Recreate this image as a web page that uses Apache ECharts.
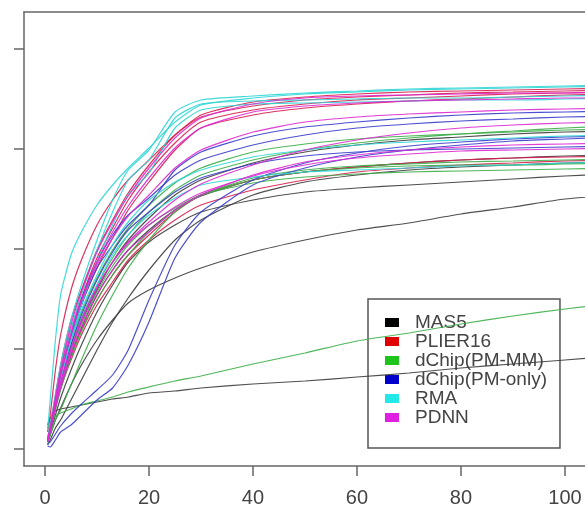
<!DOCTYPE html>
<html>
<head>
<meta charset="utf-8">
<script src="https://cdn.jsdelivr.net/npm/echarts@6/dist/echarts.min.js"></script>
<style>html,body{margin:0;padding:0;background:#fff}#c{width:585px;height:508px}</style>
</head>
<body>
<div id="c"></div>
<script>
// x positions (false positives) shared by every curve
const xs = [0.5,1,2,3,5,7,10,13,16,20,25,30,40,50,60,70,80,90,100,110];
const xTicks = [0,20,40,60,80,100];
const yTicks = [0,0.2,0.4,0.6,0.8];
const methods = ["MAS5","PLIER16","dChip(PM-MM)","dChip(PM-only)","RMA","PDNN"];

// MAS5
const mas5 = [
  [0.048,0.062,0.076,0.080,0.084,0.088,0.094,0.100,0.104,0.112,0.116,0.122,0.130,0.136,0.144,0.152,0.162,0.170,0.178,0.186],
  [0.014,0.028,0.058,0.082,0.128,0.168,0.218,0.258,0.292,0.318,0.342,0.362,0.394,0.418,0.438,0.452,0.470,0.484,0.500,0.508],
  [0.018,0.034,0.068,0.102,0.158,0.208,0.274,0.328,0.374,0.414,0.448,0.474,0.498,0.514,0.522,0.528,0.534,0.540,0.546,0.550],
  [0.016,0.038,0.088,0.128,0.198,0.254,0.318,0.374,0.418,0.462,0.508,0.538,0.572,0.594,0.608,0.618,0.624,0.630,0.634,0.636],
  [0.016,0.038,0.084,0.122,0.188,0.242,0.308,0.358,0.398,0.438,0.478,0.506,0.538,0.554,0.564,0.572,0.578,0.582,0.586,0.588],
  [0.008,0.018,0.042,0.058,0.098,0.138,0.198,0.254,0.302,0.358,0.418,0.458,0.508,0.534,0.548,0.558,0.564,0.568,0.572,0.574]
];
// PLIER16
const plier16 = [
  [0.034,0.068,0.158,0.228,0.318,0.378,0.448,0.498,0.538,0.578,0.628,0.668,0.694,0.704,0.710,0.714,0.716,0.718,0.720,0.722],
  [0.022,0.048,0.108,0.168,0.258,0.318,0.398,0.458,0.512,0.568,0.628,0.664,0.686,0.698,0.704,0.708,0.712,0.714,0.716,0.718],
  [0.018,0.042,0.098,0.154,0.238,0.302,0.382,0.442,0.498,0.554,0.612,0.654,0.678,0.690,0.698,0.702,0.706,0.710,0.712,0.714],
  [0.016,0.038,0.094,0.142,0.222,0.288,0.362,0.422,0.478,0.534,0.598,0.642,0.668,0.682,0.690,0.696,0.700,0.704,0.708,0.710],
  [0.018,0.042,0.088,0.128,0.188,0.238,0.298,0.348,0.388,0.428,0.474,0.508,0.538,0.554,0.564,0.572,0.578,0.582,0.584,0.586],
  [0.014,0.038,0.082,0.122,0.178,0.228,0.288,0.334,0.378,0.418,0.458,0.488,0.518,0.538,0.554,0.562,0.568,0.572,0.576,0.578]
];
// dChip(PM-MM)
const dchipMM = [
  [0.042,0.054,0.066,0.072,0.080,0.088,0.096,0.104,0.114,0.124,0.136,0.146,0.170,0.192,0.216,0.232,0.250,0.266,0.280,0.292],
  [0.018,0.042,0.094,0.138,0.208,0.262,0.328,0.382,0.428,0.474,0.518,0.548,0.578,0.598,0.612,0.622,0.630,0.636,0.642,0.646],
  [0.014,0.034,0.078,0.118,0.182,0.234,0.298,0.348,0.388,0.434,0.478,0.508,0.538,0.554,0.562,0.566,0.568,0.568,0.570,0.572],
  [0.016,0.038,0.088,0.128,0.194,0.248,0.314,0.366,0.408,0.448,0.482,0.508,0.532,0.544,0.550,0.554,0.556,0.558,0.560,0.562],
  [0.018,0.042,0.098,0.142,0.218,0.274,0.342,0.398,0.442,0.488,0.532,0.562,0.594,0.610,0.620,0.626,0.630,0.634,0.638,0.640],
  [0.008,0.028,0.058,0.078,0.128,0.178,0.248,0.308,0.362,0.418,0.474,0.508,0.542,0.558,0.566,0.570,0.574,0.576,0.578,0.580]
];
// dChip(PM-only)
const dchipPM = [
  [0.006,0.004,0.018,0.034,0.048,0.068,0.098,0.122,0.168,0.254,0.382,0.454,0.528,0.562,0.584,0.598,0.608,0.616,0.620,0.624],
  [0.010,0.014,0.030,0.046,0.070,0.090,0.118,0.148,0.198,0.298,0.408,0.474,0.538,0.572,0.592,0.606,0.614,0.620,0.624,0.626],
  [0.018,0.042,0.098,0.142,0.222,0.288,0.362,0.408,0.448,0.488,0.558,0.594,0.626,0.644,0.654,0.662,0.668,0.672,0.674,0.676],
  [0.016,0.038,0.088,0.132,0.208,0.268,0.338,0.394,0.438,0.474,0.514,0.542,0.570,0.586,0.594,0.598,0.600,0.602,0.604,0.606],
  [0.018,0.042,0.098,0.148,0.228,0.298,0.374,0.428,0.468,0.502,0.548,0.578,0.608,0.628,0.642,0.650,0.656,0.660,0.664,0.666]
];
// RMA
const rma = [
  [0.038,0.098,0.218,0.308,0.388,0.434,0.488,0.528,0.562,0.602,0.654,0.688,0.702,0.710,0.714,0.718,0.720,0.722,0.724,0.726],
  [0.022,0.048,0.108,0.168,0.258,0.328,0.418,0.498,0.558,0.598,0.674,0.698,0.706,0.712,0.716,0.720,0.722,0.724,0.726,0.728],
  [0.018,0.042,0.098,0.148,0.238,0.308,0.398,0.474,0.538,0.578,0.662,0.690,0.696,0.698,0.700,0.702,0.702,0.704,0.706,0.708],
  [0.018,0.038,0.088,0.138,0.218,0.288,0.374,0.448,0.508,0.552,0.642,0.678,0.690,0.692,0.694,0.696,0.698,0.698,0.700,0.702],
  [0.014,0.038,0.088,0.128,0.198,0.258,0.328,0.388,0.428,0.468,0.502,0.528,0.544,0.554,0.558,0.562,0.566,0.568,0.572,0.574],
  [0.018,0.042,0.098,0.142,0.218,0.278,0.348,0.408,0.454,0.498,0.534,0.558,0.584,0.598,0.608,0.614,0.618,0.622,0.626,0.628]
];
// PDNN
const pdnn = [
  [0.018,0.042,0.102,0.158,0.248,0.314,0.394,0.454,0.506,0.562,0.622,0.662,0.690,0.702,0.706,0.708,0.710,0.712,0.712,0.714],
  [0.016,0.038,0.094,0.146,0.230,0.298,0.374,0.434,0.486,0.542,0.602,0.642,0.674,0.686,0.692,0.696,0.698,0.700,0.702,0.702],
  [0.018,0.042,0.098,0.148,0.228,0.294,0.368,0.422,0.466,0.508,0.562,0.598,0.634,0.654,0.664,0.670,0.674,0.678,0.680,0.682],
  [0.014,0.034,0.082,0.122,0.188,0.242,0.308,0.358,0.398,0.434,0.478,0.508,0.548,0.574,0.588,0.598,0.604,0.608,0.610,0.612],
  [0.014,0.038,0.088,0.128,0.198,0.254,0.322,0.374,0.414,0.454,0.498,0.530,0.568,0.598,0.618,0.632,0.642,0.648,0.652,0.654],
  [0.016,0.038,0.090,0.134,0.202,0.258,0.324,0.374,0.412,0.448,0.484,0.512,0.546,0.568,0.582,0.590,0.596,0.598,0.600,0.602]
];

const groups = [mas5, plier16, dchipMM, dchipPM, rma, pdnn];
const lineColors = ['#3c3c3c','#d81e4e','#3cae48','#3a3ccc','#2fd6d6','#de28d2'];
const keyColors = ['#000000','#e00000','#1cc41c','#0000cc','#22e8e8','#e020e0'];

const series = [];
groups.forEach((g, gi) => {
  g.forEach(ys => {
    series.push({
      name: methods[gi],
      type: 'line',
      xAxisIndex: 0,
      data: xs.map((x, i) => [x, ys[i]]),
      showSymbol: false,
      smooth: 0.2,
      silent: true,
      z: 2,
      color: keyColors[gi],
      lineStyle: { color: lineColors[gi], width: 1.2, opacity: 0.9 }
    });
  });
});

const font = '"Liberation Sans", Arial, sans-serif';
const axisCol = '#666';
const chart = echarts.init(document.getElementById('c'), null, { renderer: 'canvas' });
chart.setOption({
  animation: false,
  backgroundColor: '#ffffff',
  grid: { left: 24, top: 12, right: 0, bottom: 42, show: false },
  xAxis: [{
    type: 'value', min: -4.04, max: 103.85, position: 'bottom',
    splitLine: { show: false },
    axisLine: { show: true, onZero: false, lineStyle: { color: axisCol, width: 1.5 } },
    axisTick: { show: true, length: 10, inside: false, customValues: xTicks, lineStyle: { color: axisCol, width: 1.5 } },
    axisLabel: { show: true, customValues: xTicks, margin: 22, fontSize: 20, color: '#444', fontFamily: font }
  }, {
    type: 'value', min: -4.04, max: 103.85, position: 'top',
    splitLine: { show: false },
    axisLine: { show: true, onZero: false, lineStyle: { color: axisCol, width: 1.5 } },
    axisTick: { show: false },
    axisLabel: { show: false }
  }],
  yAxis: {
    type: 'value', min: -0.034, max: 0.874,
    splitLine: { show: false },
    axisLine: { show: true, onZero: false, lineStyle: { color: axisCol, width: 1.5 } },
    axisTick: { show: true, length: 10, inside: false, customValues: yTicks, lineStyle: { color: axisCol, width: 1.5 } },
    axisLabel: { show: false }
  },
  legend: {
    orient: 'vertical',
    left: 368, top: 299,
    z: 1,
    padding: [14, 13, 21, 17],
    borderColor: '#555', borderWidth: 1.5,
    backgroundColor: 'transparent',
    itemWidth: 14, itemHeight: 9, itemGap: 0,
    icon: 'rect',
    selectedMode: false,
    textStyle: { fontSize: 19, lineHeight: 18.6, color: '#444', fontFamily: font, padding: [0, 0, 0, 11] },
    data: methods.map((m, i) => ({ name: m, itemStyle: { color: keyColors[i] } }))
  },
  series: series
});
</script>
</body>
</html>
